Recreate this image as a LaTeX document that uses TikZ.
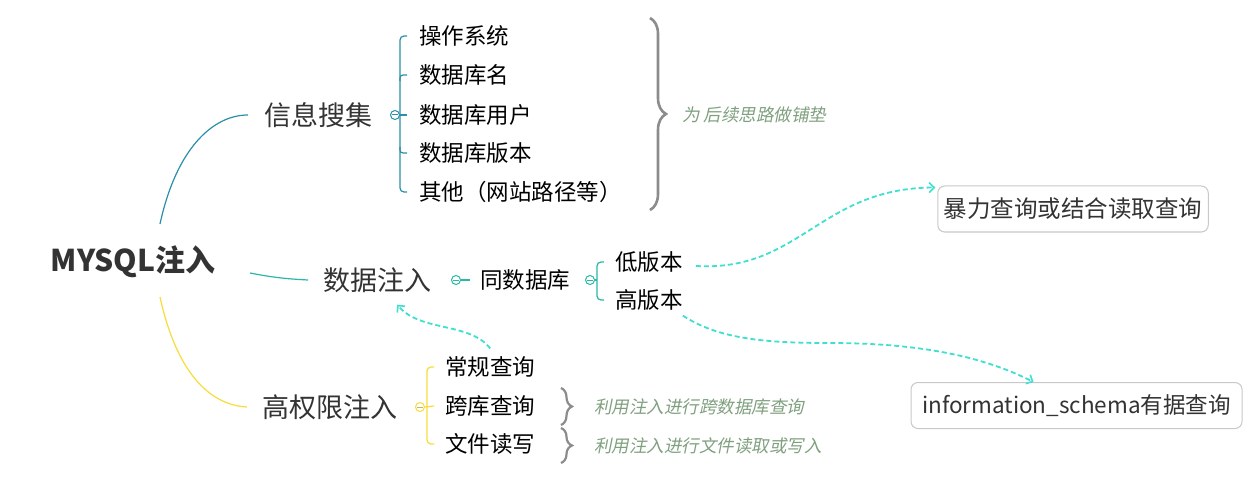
\documentclass[tikz,border=0pt]{standalone}
\usepackage{fontspec}
\setmainfont{Noto Sans CJK SC}
\newfontfamily\slfont{Noto Sans CJK SC}[FakeSlant=0.2]
\usetikzlibrary{arrows.meta,decorations.pathreplacing}
\definecolor{cblue}{HTML}{2A8FA8}
\definecolor{cteal}{HTML}{2AB8A6}
\definecolor{cyel}{HTML}{F8DC3C}
\definecolor{cdash}{HTML}{40E0D0}
\definecolor{ctext}{HTML}{333333}
\definecolor{cnote}{HTML}{7FA07F}
\definecolor{cbox}{HTML}{C8C8C8}
\definecolor{cbrace}{HTML}{8C8C8C}
\tikzset{
  hdr/.style={anchor=west,inner sep=0pt,text=ctext,font=\fontsize{27}{30}\selectfont},
  kid/.style={anchor=west,inner sep=0pt,text=black,font=\fontsize{22.5}{26}\selectfont},
  note/.style={anchor=west,inner sep=0pt,text=cnote,font=\slfont\fontsize{17.5}{20}\selectfont},
  tagbox/.style={draw=cbox,line width=1pt,rounded corners=7pt,minimum height=46pt,inner xsep=6pt,text=ctext,font=\fontsize{23.5}{28}\selectfont},
  link/.style={cdash,line width=1.8pt,dash pattern=on 5pt off 3pt,-{Straight Barb[length=5pt,width=10pt,line width=1.6pt]}},
  collapse/.style={circle,draw,fill=white,minimum size=9pt,inner sep=0pt,line width=1pt},
  branch/.style={line width=1.2pt,rounded corners=4pt},
  bigbrace/.style={draw=cbrace,line width=2.6pt,decorate,decoration={brace,amplitude=16pt}},
  smallbrace/.style={draw=cbrace,line width=2.2pt,decorate,decoration={brace,amplitude=11pt}}
}
\begin{document}
\begin{tikzpicture}[x=1pt,y=-1pt]
\useasboundingbox (0,0) rectangle (1258,481);
\fill[white] (0,0) rectangle (1258,481);

% root
\node[anchor=center,inner sep=0pt,text=ctext,font=\bfseries\fontsize{30}{34}\selectfont] (root) at (133,262) {MYSQL注入};
\coordinate (r1) at (160,224);
\coordinate (r2) at (250,273);
\coordinate (r3) at (160,297);

% main branches
\node[hdr] (info) at (264,115) {信息搜集};
\node[hdr] (data) at (323,280) {数据注入};
\node[hdr] (high) at (262,407) {高权限注入};

\draw[cblue,line width=1.2pt] (r1) .. controls (176,150) and (212,115) .. ([xshift=-16pt]info.west);
\draw[cteal,line width=1.2pt] (r2) .. controls (275,278) and (290,279) .. ([xshift=-15pt]data.west);
\draw[cyel,line width=1.2pt] (r3) .. controls (176,370) and (208,405) .. ([xshift=-15pt]high.west);

% info children
\node[kid] (k1) at (419,36) {操作系统};
\node[kid] (k2) at (419,75) {数据库名};
\node[kid] (k3) at (419,115) {数据库用户};
\node[kid] (k4) at (419,153) {数据库版本};
\node[kid] (k5) at (419,192) {其他（网站路径等）};
\node[collapse,draw=cblue] (c1) at (395,115) {};
\draw[cblue,line width=1pt] ([xshift=2.3pt]c1.west) -- ([xshift=-2.3pt]c1.east);
\draw[cblue,branch] ([xshift=-12pt]k1.west) -- (400,36) -- (400,192) -- ([xshift=-12pt]k5.west);
\draw[cblue,line width=1.2pt] (400,81) .. controls (400,75) .. ([xshift=-12pt]k2.west);
\draw[cblue,line width=1.2pt] (400,147) .. controls (400,153) .. ([xshift=-12pt]k4.west);
\draw[cblue,line width=1.2pt] (c1.east) -- ([xshift=-12pt]k3.west);
\draw[bigbrace] (650,18) -- (650,210);
\node[note] (n1) at (682,115) {为 后续思路做铺垫};

% data children
\node[collapse,draw=cteal] (c2) at (456,280) {};
\draw[cteal,line width=1pt] ([xshift=2.3pt]c2.west) -- ([xshift=-2.3pt]c2.east);
\node[kid] (same) at (480,280) {同数据库};
\draw[cteal,line width=1.2pt] (c2.east) -- ([xshift=-10pt]same.west);
\node[collapse,draw=cteal] (c3) at (590,280) {};
\draw[cteal,line width=1pt] ([xshift=2.3pt]c3.west) -- ([xshift=-2.3pt]c3.east);
\node[kid] (lv) at (615,262) {低版本};
\node[kid] (hv) at (615,300) {高版本};
\draw[cteal,branch] ([xshift=-11pt]lv.west) -- (597,262) -- (597,300) -- ([xshift=-11pt]hv.west);
\draw[cteal,line width=1.2pt] (c3.east) -- (597,280);

% boxes
\node[tagbox,minimum width=268pt] (b1) at (1073,209) {暴力查询或结合读取查询};
\node[tagbox,font=\fontsize{22.5}{26}\selectfont,minimum width=331pt,inner xsep=4pt] (b2) at (1076.5,405.5) {information\_schema有据查询};

% high children
\node[collapse,draw=cyel] (c4) at (420,407) {};
\draw[cyel!60!gray,line width=1pt] ([xshift=2.3pt]c4.west) -- ([xshift=-2.3pt]c4.east);
\node[kid] (q1) at (445,367) {常规查询};
\node[kid] (q2) at (445,406) {跨库查询};
\node[kid] (q3) at (445,444) {文件读写};
\draw[cyel,branch] ([xshift=-11pt]q1.west) -- (427,367) -- (427,444) -- ([xshift=-11pt]q3.west);
\draw[cyel,line width=1.2pt] (c4.east) -- ([xshift=-11pt]q2.west);
\draw[smallbrace] (561,388) -- (561,425);
\draw[smallbrace] (561,428) -- (561,463);
\node[note] (n2) at (594,407) {利用注入进行跨数据库查询};
\node[note] (n3) at (594,446) {利用注入进行文件读取或写入};

% dashed links
\draw[link] ([xshift=13pt,yshift=-4pt]lv.east) .. controls (800,272) and (820,188) .. ([xshift=-2pt,yshift=-2pt]b1.north west);
\draw[link] ([yshift=-5pt]hv.south east) .. controls (720,340) and (770,343) .. (830,343) .. controls (930,343) and (990,360) .. ([xshift=-43pt]b2.north);
\draw[link] ([yshift=8pt]q1.north) .. controls (470,322) and (420,332) .. ([xshift=20pt,yshift=-12pt]data.south);
\end{tikzpicture}
\end{document}
